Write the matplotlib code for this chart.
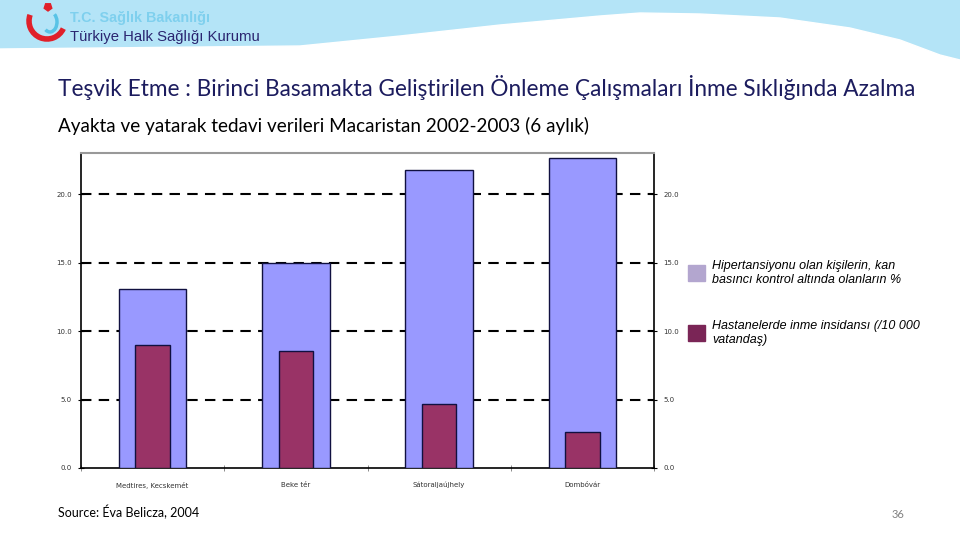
import numpy as np
import matplotlib.pyplot as plt
from matplotlib.patches import Polygon, Rectangle, Arc, RegularPolygon

# data
cities = ['Medtires, Kecskemét', 'Beke tér', 'Sátoraljaújhely', 'Dombóvár']
bp_controlled = [13.1, 15.0, 21.75, 22.6]      # % hypertensives with controlled BP
stroke_incidence = [9.0, 8.55, 4.7, 2.65]      # hospital stroke incidence /10 000
y_ticks = [0.0, 5.0, 10.0, 15.0, 20.0]
legend_labels = ['Hipertansiyonu olan kişilerin, kan\nbasıncı kontrol altında olanların %',
                 'Hastanelerde inme insidansı (/10 000\nvatandaş)']

W, H = 960, 540
fig = plt.figure(figsize=(9.6, 5.4), dpi=100)

# header band with white wave
bg = fig.add_axes([0, 0, 1, 1])
bg.set_xlim(0, W)
bg.set_ylim(H, 0)
bg.axis('off')
bg.add_patch(Rectangle((0, 0), W, 70, color='#b4e4f7', zorder=0))
wave_x = [0, 100, 200, 300, 400, 500, 600, 640, 700, 780, 850, 900, 940, 960, 960, 0]
wave_y = [49, 48, 47, 46, 36, 25, 16, 13, 14, 18, 28, 40, 55, 60, 75, 75]
bg.add_patch(Polygon(list(zip(wave_x, wave_y)), closed=True, color='white', zorder=1))
# simple logo
bg.add_patch(Arc((47, 21), 36, 36, theta1=25, theta2=200, color='#e0202a', lw=4, zorder=2))
bg.add_patch(RegularPolygon((48, 7), 5, radius=4, color='#e0202a', zorder=2))
bg.add_patch(Arc((50, 22), 14, 20, theta1=-60, theta2=120, color='#59c3e6', lw=2.5, zorder=2))
bg.text(70, 18, 'T.C. Sağlık Bakanlığı', color='#7fd0ee', fontsize=10.4, fontweight='bold',
        family='Liberation Sans', va='center', ha='left', zorder=3)
bg.text(70, 37, 'Türkiye Halk Sağlığı Kurumu', color='#2a2570', fontsize=10.7,
        family='Liberation Sans', va='center', ha='left', zorder=3)

bg.text(58, 88, 'Teşvik Etme : Birinci Basamakta Geliştirilen Önleme Çalışmaları İnme Sıklığında Azalma',
        color='#1c1c5e', fontsize=16.3, family='Lato', va='center', ha='left')
bg.text(58, 126, 'Ayakta ve yatarak tedavi verileri Macaristan 2002-2003 (6 aylık)',
        color='black', fontsize=13.6, family='Lato', va='center', ha='left')
bg.text(58, 512, 'Source: Éva Belicza, 2004', color='black', fontsize=9,
        family='Lato', va='center', ha='left')
bg.text(898, 515, '36', color='#808080', fontsize=8, family='Lato', va='center', ha='center')

# legend
legend_colors = ['#b3a6cf', '#7a2556']
for i, (lab, col) in enumerate(zip(legend_labels, legend_colors)):
    y0 = 265 + i * 60
    bg.add_patch(Rectangle((688, y0), 17, 16, color=col, zorder=3))
    bg.text(712, y0 + 8, lab, fontsize=9, style='italic', family='Liberation Sans',
            va='center', ha='left', linespacing=1.25, color='black')

# chart
ax = fig.add_axes([81 / W, 72 / H, 573 / W, 315 / H])
x = np.arange(len(cities))
ax.bar(x, bp_controlled, width=0.47, color='#9999ff', edgecolor='#101040', lw=1, zorder=3)
ax.bar(x, stroke_incidence, width=0.24, color='#993366', edgecolor='#101040', lw=1, zorder=4)
ax.set_xlim(-0.5, len(cities) - 0.5)
ax.set_ylim(0, 23)
for yv in y_ticks[1:]:
    ax.axhline(yv, color='black', lw=1.5, ls=(0, (5, 3.5)), zorder=1)

ax.set_yticks(y_ticks)
ax.set_yticklabels(['%.1f' % v for v in y_ticks])
ax.tick_params(axis='y', direction='inout', length=5, labelsize=5, colors='black',
               labelcolor='#333333', left=True, right=True, labelleft=True, labelright=True, pad=4)
ax.set_xticks(np.arange(len(cities) + 1) - 0.5, minor=True)
ax.set_xticks(x)
ax.set_xticklabels(cities)
ax.tick_params(axis='x', which='major', length=0, labelsize=5, labelcolor='#333333', pad=10)
ax.tick_params(axis='x', which='minor', direction='inout', length=4, color='#777777')
for s in ['left', 'right', 'bottom']:
    ax.spines[s].set_color('black')
    ax.spines[s].set_linewidth(1.2)
ax.spines['top'].set_color('#999999')
ax.spines['top'].set_linewidth(1.5)

fig.savefig('out.png', dpi=100)
